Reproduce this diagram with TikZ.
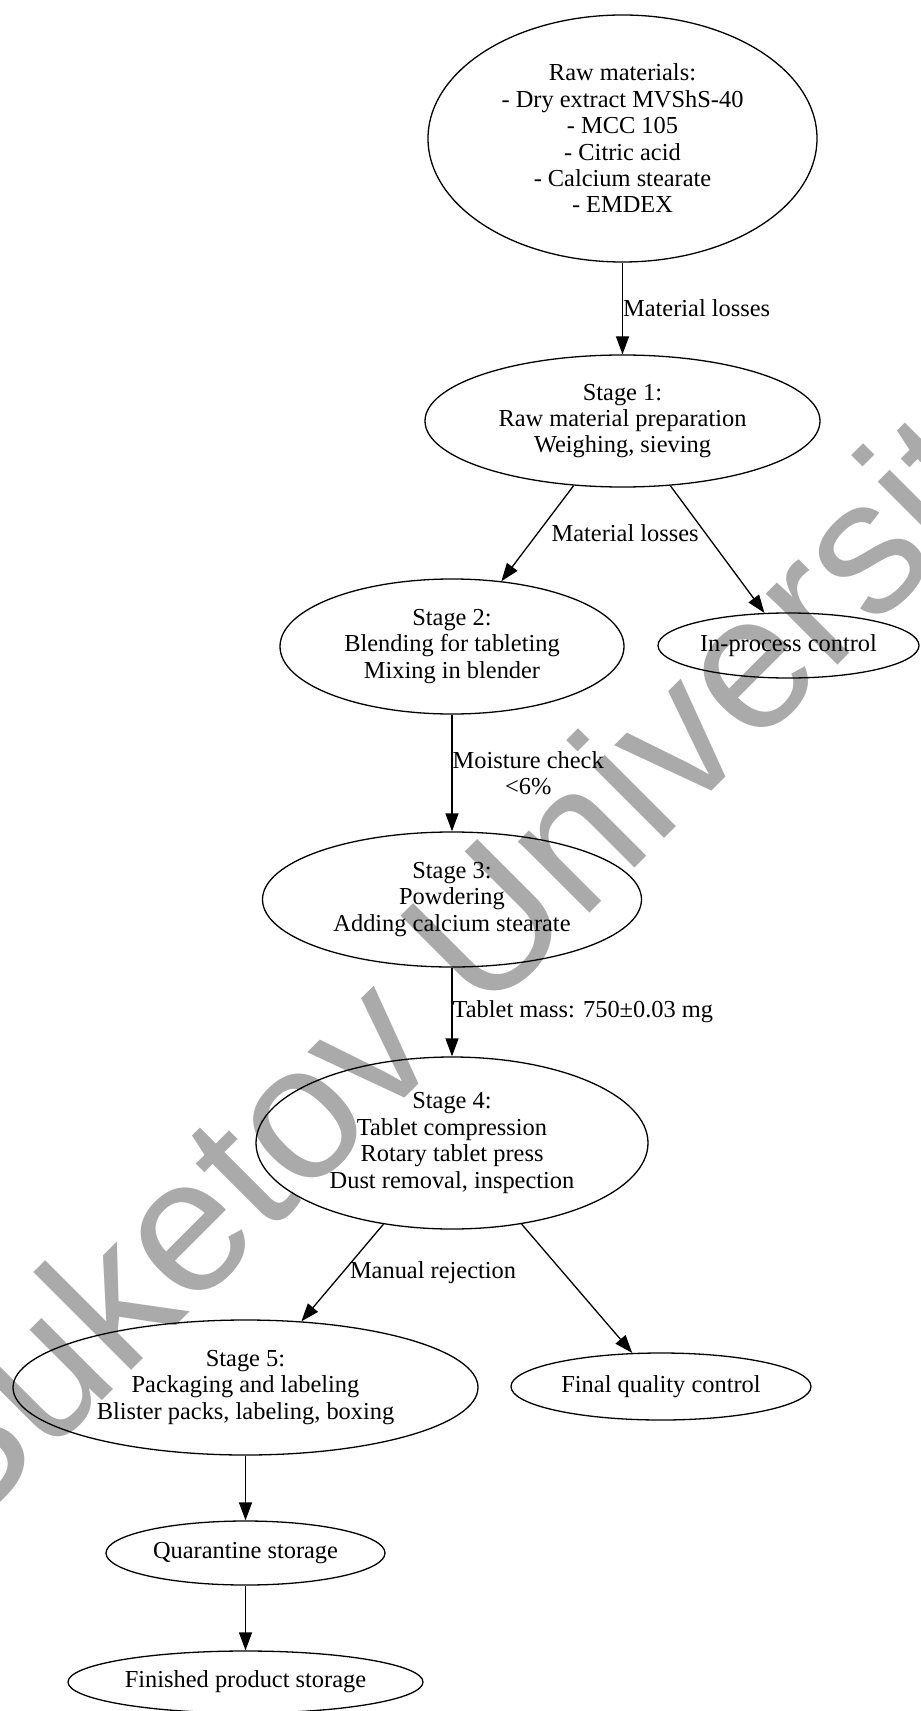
\documentclass[tikz,border=0pt]{standalone}
\usepackage{fontspec}
\newfontfamily\tmsfont{Liberation Serif}
\newfontfamily\wmfont{Liberation Sans}
\usetikzlibrary{shapes.geometric, arrows.meta}
\definecolor{wmgray}{RGB}{170,170,170}

\begin{document}
\begin{tikzpicture}[x=0.5pt, y=-0.5pt,
	every node/.style={font=\tmsfont\fontsize{12.2}{13.2}\selectfont},
	stage/.style={draw, ellipse, inner sep=0pt, line width=0.65pt, align=center},
	flow/.style={-{Triangle[length=9pt,width=6.5pt]}, line width=0.65pt},
	lbl/.style={inner sep=0pt, align=center}]
	\useasboundingbox (0,0) rectangle (920,1711);
	\clip (0,0) rectangle (920,1711);
	% watermark behind everything
	\node[text=wmgray, rotate=45, inner sep=0pt, font=\wmfont\fontsize{95.5}{95.5}\selectfont] (wm) at (482,951) {Buketov University};
	% stages
	\node[stage, minimum width=194.5pt, minimum height=123.5pt] (raw) at (622.5,138.5) {Raw materials:\\- Dry extract MVShS-40\\- MCC 105\\- Citric acid\\- Calcium stearate\\- EMDEX};
	\node[stage, minimum width=197.5pt, minimum height=66pt] (s1) at (622.5,421) {Stage 1:\\Raw material preparation\\Weighing, sieving};
	\node[stage, minimum width=172pt, minimum height=67.5pt] (s2) at (452,646.5) {Stage 2:\\Blending for tableting\\Mixing in blender};
	\node[stage, minimum width=130.5pt, minimum height=32.5pt] (inproc) at (788.5,645.5) {In-process control};
	\node[stage, minimum width=189.5pt, minimum height=67.5pt] (s3) at (452,899.5) {Stage 3:\\Powdering\\Adding calcium stearate};
	\node[stage, minimum width=196pt, minimum height=86pt] (s4) at (452,1143) {Stage 4:\\Tablet compression\\Rotary tablet press\\Dust removal, inspection};
	\node[stage, minimum width=232.5pt, minimum height=67.5pt] (s5) at (245.5,1387.5) {Stage 5:\\Packaging and labeling\\Blister packs, labeling, boxing};
	\node[stage, minimum width=150pt, minimum height=33.5pt] (fqc) at (661,1386.5) {Final quality control};
	\node[stage, minimum width=139.5pt, minimum height=32pt] (quar) at (245.5,1553) {Quarantine storage};
	\node[stage, minimum width=177.5pt, minimum height=31pt] (fin) at (245.5,1682) {Finished product storage};
	% flow
	\draw[flow] (raw) -- node[lbl, right] {Material losses} (s1);
	\draw[flow] (s1) -- node[lbl, right=6.75pt] {Material losses} (s2);
	\draw[flow] (s1) -- (inproc);
	\draw[flow] (s2) -- node[lbl, right] {Moisture check\\<6\%} (s3);
	\draw[flow] (s3) -- node[lbl, right] {Tablet mass: 750±0.03 mg} (s4);
	\draw[flow] (s4) -- node[lbl, right=3.5pt] {Manual rejection} (s5);
	\draw[flow] (s4) -- (fqc);
	\draw[flow] (s5) -- (quar);
	\draw[flow] (quar) -- (fin);
\end{tikzpicture}
\end{document}
